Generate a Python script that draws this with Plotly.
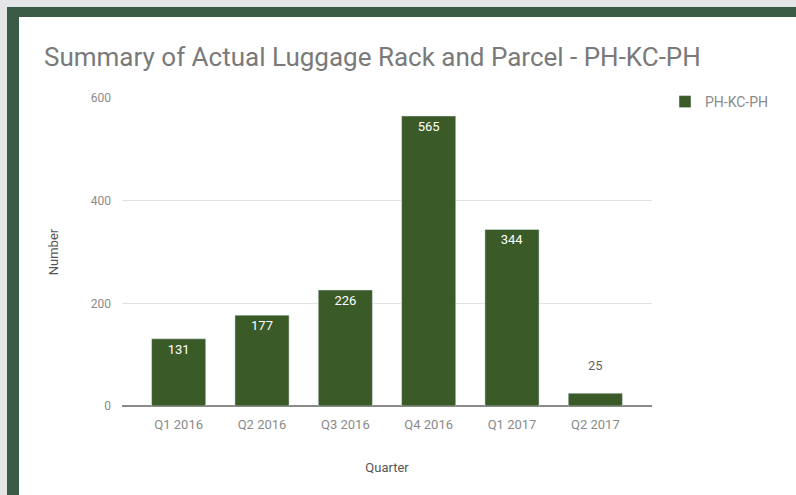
import plotly.graph_objects as go

quarters = ["Q1 2016", "Q2 2016", "Q3 2016", "Q4 2016", "Q1 2017", "Q2 2017"]
values = [131, 177, 226, 565, 344, 25]
y_ticks = [0, 200, 400, 600]
series_name = "PH-KC-PH"

W, H = 796, 495
L, R, T, B = 122, 652, 98, 406  # plot area in pixels

def px(x):
    return (x - L) / (R - L)

def py(y):
    return (B - y) / (B - T)

bar_color = "#3a5a28"
frame_green = "#3b5b47"
strip_gray = "#e4e5e6"

positions = ["inside" if v > 60 else "outside" for v in values]
labels = [str(v) if p == "inside" else str(v) + "<br> " for v, p in zip(values, positions)]

fig = go.Figure()
fig.add_trace(go.Bar(
    x=quarters, y=values, name=series_name,
    marker_color=bar_color,
    text=labels,
    textposition=positions,
    insidetextanchor="end",
    insidetextfont=dict(color="white", size=13, family="Roboto"),
    outsidetextfont=dict(color="#666666", size=13, family="Roboto"),
    cliponaxis=False,
    showlegend=True,
))

shapes = [
    dict(type="rect", xref="paper", yref="paper", x0=px(0), x1=px(7), y0=py(H), y1=py(0),
         fillcolor=strip_gray, line_width=0, layer="below"),
    dict(type="rect", xref="paper", yref="paper", x0=px(0), x1=px(W), y0=py(7), y1=py(0),
         fillcolor=strip_gray, line_width=0, layer="below"),
    dict(type="rect", xref="paper", yref="paper", x0=px(7), x1=px(19), y0=py(H), y1=py(7),
         fillcolor=frame_green, line_width=0, layer="below"),
    dict(type="rect", xref="paper", yref="paper", x0=px(7), x1=px(W), y0=py(17), y1=py(7),
         fillcolor=frame_green, line_width=0, layer="below"),
]

fig.update_layout(
    width=W, height=H,
    margin=dict(l=L, r=W - R, t=T, b=H - B, pad=0),
    paper_bgcolor="white", plot_bgcolor="white",
    font=dict(family="Roboto", color="#757575"),
    title=dict(text="Summary of Actual Luggage Rack and Parcel - PH-KC-PH",
               x=44 / W, xref="container", xanchor="left",
               y=1 - 57 / H, yref="container", yanchor="middle",
               font=dict(size=26, color="#7a7a7a", family="Roboto")),
    bargap=0.35,
    showlegend=True,
    legend=dict(x=px(665), y=py(86), xanchor="left", yanchor="top",
                font=dict(size=14, color="#8a8a8a"), bgcolor="rgba(0,0,0,0)"),
    shapes=shapes,
    xaxis=dict(range=[-0.68, 5.68], showgrid=False, showline=False, zeroline=False,
               ticks="", ticklabelstandoff=9, tickfont=dict(size=13, color="#8a8a8a"),
               title=dict(text="Quarter", font=dict(size=13, color="#555555"), standoff=31)),
    yaxis=dict(range=[0, 600], tickvals=y_ticks, showgrid=True, gridcolor="#e2e2e2",
               zeroline=True, zerolinecolor="#8a8a8a", zerolinewidth=1.5, showline=False,
               ticks="", ticklabelstandoff=10, tickfont=dict(size=12, color="#8a8a8a"),
               title=dict(text="Number", font=dict(size=13, color="#555555"), standoff=29)),
)

fig.write_html("out.html", config={"displayModeBar": False},
               post_script="document.body.style.margin='0';document.body.style.overflow='hidden';")
